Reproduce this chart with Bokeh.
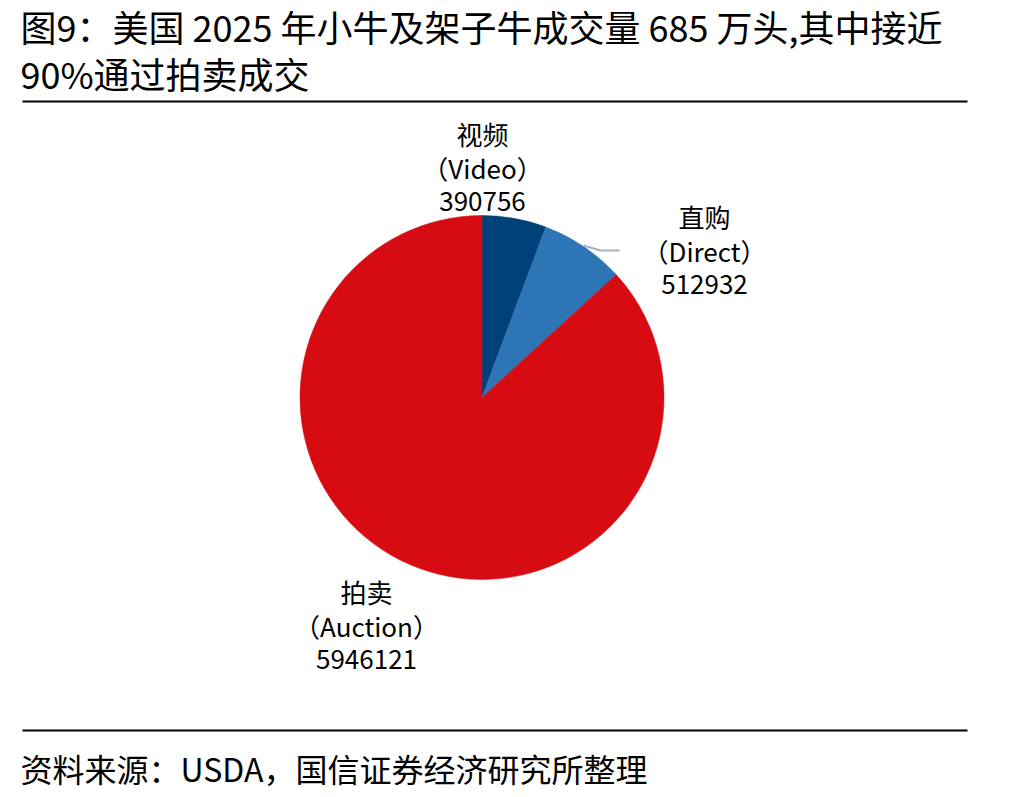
import math
from bokeh.plotting import figure
from bokeh.models import Range1d, ColumnDataSource
from bokeh.core.properties import value
from bokeh.embed import file_html
from bokeh.resources import INLINE

# ---- data ----
categories_cn = ["视频", "直购", "拍卖"]
categories_en = ["Video", "Direct", "Auction"]
volumes = [390756, 512932, 5946121]
colors = ["#01417A", "#2E75B6", "#D60C12"]

title_lines = ["图9：美国 2025 年小牛及架子牛成交量 685 万头,其中接近", "90%通过拍卖成交"]
source_text = "资料来源：USDA，国信证券经济研究所整理"

W, H = 1016, 797
FONT = "Noto Sans CJK SC"


def Y(py):
    return H - py


p = figure(width=W, height=H, x_range=Range1d(0, W), y_range=Range1d(0, H),
           output_backend="svg", toolbar_location=None, min_border=0)
p.axis.visible = False
p.grid.visible = False
p.outline_line_color = None
p.background_fill_color = "white"
p.border_fill_color = "white"

# ---- pie ----
total = sum(volumes)
starts, ends = [], []
cum = 0.0
for v in volumes:
    starts.append(math.pi / 2 - cum / total * 2 * math.pi)
    cum += v
    ends.append(math.pi / 2 - cum / total * 2 * math.pi)

cx, cy, r = 481.5, Y(397), 182
src = ColumnDataSource(dict(start=starts, end=ends, color=colors))
p.wedge(x=cx, y=cy, radius=r, start_angle="start", end_angle="end",
        direction="clock", fill_color="color", line_color="color", line_width=0.5,
        source=src)

# leader line for Direct
p.line(x=[583, 600, 619], y=[Y(245), Y(250), Y(250)], line_color="#A3B1BE", line_width=2)

# ---- data labels ----
label_pos = [(482, 133), (704, 216), (366, 591)]
for (lx, ly), cn, en, v in zip(label_pos, categories_cn, categories_en, volumes):
    rows = [cn, "（" + en + "）", str(v)]
    p.text(x=[lx] * 3, y=[Y(ly), Y(ly + 34), Y(ly + 68)], text=rows,
           text_font=value(FONT), text_font_size="26px", text_color="#000000",
           text_align="center", text_baseline="middle")

# ---- title ----
p.text(x=[20, 20], y=[Y(25), Y(72)], text=title_lines, text_font=value(FONT),
       text_font_size="36px", text_color="#000000", text_align="left",
       text_baseline="middle")

# rules
p.line(x=[22, 967], y=[Y(101), Y(101)], line_color="#000000", line_width=2)
p.line(x=[22, 967], y=[Y(730), Y(730)], line_color="#000000", line_width=2)

# ---- source ----
p.text(x=[20], y=[Y(767)], text=[source_text], text_font=value(FONT),
       text_font_size="32px", text_color="#000000", text_align="left",
       text_baseline="middle")

open("out.html", "w").write(file_html(p, INLINE))
